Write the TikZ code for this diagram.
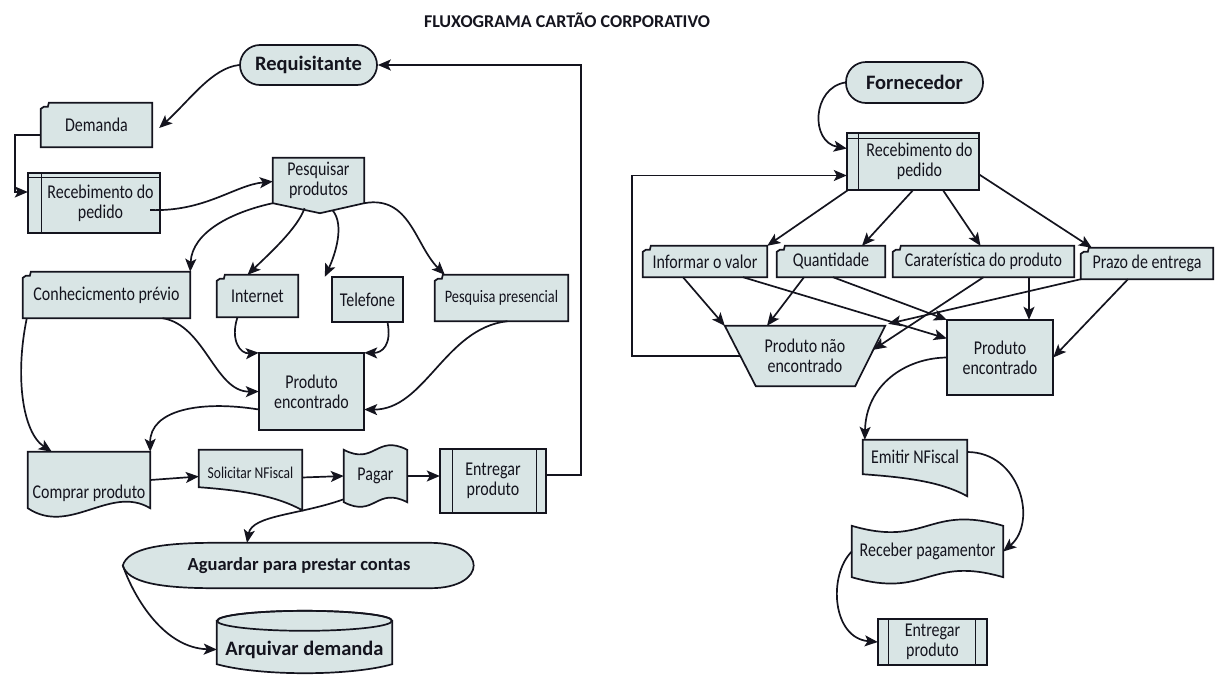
\documentclass[tikz,border=0pt]{standalone}
\usepackage{fontspec}
\setmainfont{Carlito}
\newfontfamily\narrowfont{Carlito}[FakeStretch=0.82]
\usetikzlibrary{arrows.meta,calc}
\pgfdeclarelayer{bg}
\pgfsetlayers{bg,main}
\definecolor{boxfill}{RGB}{217,229,229}
\definecolor{ink}{RGB}{20,20,30}

\tikzset{
  shp/.style={draw=ink, fill=boxfill, line width=1.7pt},
  innerline/.style={draw=ink, line width=1.3pt},
  lbl/.style={inner sep=0pt, align=center, text=ink, font=\narrowfont\fontsize{19.5}{20}\selectfont},
  sz/.style 2 args={minimum width=#1pt, minimum height=#2pt},
  stadium/.style={shp, rounded corners=20pt, font=\bfseries\fontsize{20.5}{24}\selectfont},
  con/.style={draw=ink, line width=1.7pt, -{Stealth[length=13pt,width=11pt,inset=3pt]}},
}

% shape outlines drawn around named nodes
\newcommand\rectshape[1]{\path[shp] (#1.south west) rectangle (#1.north east);}
\newcommand\cardshape[1]{\path[shp] (#1.south west) -- ([yshift=-6pt]#1.north west)
  -- ([xshift=3pt,yshift=-4pt]#1.north west) -- ([xshift=7pt,yshift=-4pt]#1.north west)
  -- ([xshift=8pt]#1.north west) -- (#1.north east) -- (#1.south east) -- cycle;}
\newcommand\storeshape[3]{\rectshape{#1}
  \draw[innerline] ([xshift=#2]#1.south west) -- ([xshift=#2]#1.north west);
  \draw[innerline] ([yshift=-#3]#1.north west) -- ([yshift=-#3]#1.north east);}
\newcommand\predefshape[3]{\rectshape{#1}
  \draw[innerline] ([xshift=#2]#1.south west) -- ([xshift=#2]#1.north west);
  \draw[innerline] ([xshift=-#3]#1.south east) -- ([xshift=-#3]#1.north east);}
\newcommand\docshape[1]{\path[shp] (#1.north west) -- (#1.north east) -- (#1.south east)
  .. controls +(-40,-24) and +(42,28) .. (#1.south west) -- cycle;}
\newcommand\tapeshape[3]{\path[shp] (#1.north west) .. controls +(#2,#3) and +(-#2,-#3) .. (#1.north east)
  -- (#1.south east) .. controls +(-#2,-#3) and +(#2,#3) .. (#1.south west) -- cycle;}
\newcommand\slantshape[2]{\path[shp] (#1.north west) -- (#1.north east) -- ([yshift=-#2]#1.south east)
  .. controls +(-27,-15) and +(41,3) .. (#1.south west) -- cycle;}

\begin{document}
\begin{tikzpicture}[x=1pt,y=-1pt]
\useasboundingbox (0,0) rectangle (1216,675);

\node[lbl, font=\bfseries\fontsize{18}{22}\selectfont] (title) at (567,20) {FLUXOGRAMA CARTÃO CORPORATIVO};

% ---------- requisitante ----------
\node[lbl, stadium, sz={137}{40}] (req) at (308.5,65) {Requisitante};
\node[lbl, sz={111}{44}] (dem) at (96.5,125) {Demanda};
\node[lbl, sz={132}{60}] (rec1) at (94,203) {\hspace*{13pt}Recebimento do\\\hspace*{13pt}pedido};
\node[lbl, sz={91}{45}] (pesq) at (318.5,180.5) {Pesquisar\\produtos};
\node[lbl, sz={167}{46}] (conh) at (106.5,295) {Conhecicmento prévio};
\node[lbl, sz={81}{42}] (inet) at (257.5,296) {Internet};
\node[lbl, sz={71}{45}] (tel) at (367.5,299.5) {Telefone};
\node[lbl, sz={133}{46}, font=\narrowfont\fontsize{17.5}{20}\selectfont] (pres) at (501.5,298) {Pesquisa presencial};
\node[lbl, sz={105}{77}] (pe1) at (311.5,391.5) {Produto\\encontrado};
\node[lbl, sz={122}{56}] (comp) at (89,480) {\rule{0pt}{40pt}Comprar produto};
\node[lbl, sz={103}{37}, font=\narrowfont\fontsize{16.5}{18}\selectfont] (sol) at (250.5,468.5) {\rule{0pt}{20pt}Solicitar NFiscal};
\node[lbl, sz={63}{52}] (pagar) at (375.5,476) {Pagar};
\node[lbl, sz={106}{64}] (ent1) at (493,481) {Entregar\\produto};
\node[lbl, sz={352}{45}, font=\bfseries\fontsize{18.5}{22}\selectfont] (agu) at (299,565.5) {Aguardar para prestar contas};
\node[lbl, sz={175}{37}, font=\bfseries\fontsize{20.5}{24}\selectfont] (arq) at (304.5,649.5) {Arquivar demanda};

% ---------- fornecedor ----------
\node[lbl, stadium, sz={137}{41}] (forn) at (914.5,82.5) {Fornecedor};
\node[lbl, sz={132}{57}] (rec2) at (913,161.5) {\hspace*{13pt}Recebimento do\\\hspace*{13pt}pedido};
\node[lbl, sz={124}{31}] (inf) at (705,261.5) {Informar o valor};
\node[lbl, sz={108}{31}] (qtd) at (831,261.5) {Quantidade};
\node[lbl, sz={181}{31}] (car) at (983.5,261.5) {Caraterística do produto};
\node[lbl, sz={132}{31}] (prz) at (1147,263.5) {Prazo de entrega};
\node[lbl, sz={160}{60}] (pne) at (805,356) {Produto não\\encontrado};
\node[lbl, sz={106}{75}] (pe2) at (1000,357.5) {Produto\\encontrado};
\node[lbl, sz={104}{34}] (emi) at (915,457) {Emitir NFiscal};
\node[lbl, sz={151}{51}] (rcb) at (927.5,551.5) {Receber pagamentor};
\node[lbl, sz={109}{46}] (ent2) at (932.5,642) {Entregar\\produto};

% ---------- outlines ----------
\begin{pgfonlayer}{bg}
  \cardshape{dem}
  \storeshape{rec1}{14pt}{5pt}
  \path[shp] (pesq.north west) -- (pesq.north east) -- (pesq.south east)
    -- ([xshift=1.5pt,yshift=-10pt]pesq.south) -- (pesq.south west) -- cycle;
  \cardshape{conh}
  \cardshape{inet}
  \rectshape{tel}
  \cardshape{pres}
  \rectshape{pe1}
  \docshape{comp}
  \slantshape{sol}{23pt}
  \tapeshape{pagar}{31}{16}
  \predefshape{ent1}{13pt}{10pt}
  \path[shp] (agu.west) .. controls +(5,-17) and +(-55,0) .. ([xshift=92pt]agu.north west)
    -- ([xshift=-45pt]agu.north east) .. controls +(58,0) and +(58,0) .. ([xshift=-45pt]agu.south east)
    -- ([xshift=92pt]agu.south west) .. controls +(-55,0) and +(5,17) .. (agu.west) -- cycle;
  \path[shp] ([yshift=10pt]arq.north west) -- ([yshift=4pt]arq.south west)
    .. controls +(43,12) and +(-42,12) .. ([yshift=4pt]arq.south east)
    -- ([yshift=10pt]arq.north east) arc[start angle=0, end angle=180, x radius=87.5pt, y radius=10pt] -- cycle;
  \draw[shp, fill=none] ([yshift=10pt]arq.north) ellipse [x radius=87.5pt, y radius=10pt];

  \storeshape{rec2}{12pt}{6pt}
  \cardshape{inf}
  \cardshape{qtd}
  \cardshape{car}
  \cardshape{prz}
  \path[shp] (pne.north west) -- (pne.north east) -- ([xshift=-30pt]pne.south east)
    -- ([xshift=31pt]pne.south west) -- cycle;
  \rectshape{pe2}
  \slantshape{emi}{22pt}
  \tapeshape{rcb}{75}{22}
  \predefshape{ent2}{11pt}{12pt}
\end{pgfonlayer}

% ---------- connectors: requisitante ----------
\draw[con] (req.west) .. controls (212,68) and (190,100) .. ([xshift=7pt,yshift=-3pt]dem.east);
\draw[con] ([yshift=-10pt]dem.west) -- ++(-26,0) |- ([yshift=11pt]rec1.west);
\draw[con] ([xshift=-10pt,yshift=-7pt]rec1.east) .. controls (205,212) and (235,185) .. ([yshift=-1pt]pesq.west);
\draw[con] (pesq.south west) .. controls (232,212) and (192,232) .. (conh.north east);
\draw[con] ([xshift=-14pt,yshift=-5pt]pesq.south) .. controls (298,228) and (268,255) .. ([xshift=-10pt]inet.north);
\draw[con] ([xshift=14pt,yshift=-7pt]pesq.south) .. controls (345,225) and (335,255) .. ([xshift=-7pt]tel.north west);
\draw[con] (pesq.south east) .. controls (410,195) and (415,245) .. ([xshift=10pt]pres.north west);
\draw[con] ([xshift=-20pt]inet.south) .. controls (230,340) and (240,354) .. (pe1.north west);
\draw[con] ([xshift=20pt]tel.south) .. controls (392,345) and (382,353) .. (pe1.north east);
\draw[con] ([xshift=56pt]conh.south) .. controls (205,325) and (215,392) .. (pe1.west);
\draw[con] ([xshift=6pt]pres.south) .. controls (445,328) and (425,410) .. ([yshift=-18pt]pe1.east);
\draw[con] ([xshift=4pt]conh.south west) .. controls (15,375) and (22,432) .. ([xshift=24pt]comp.north west);
\draw[con] ([yshift=-18pt]pe1.west) .. controls (200,400) and (150,410) .. (comp.north east);
\draw[con] (comp.east) -- ([yshift=-8pt]sol.west);
\draw[con] ([yshift=-9pt]sol.east) -- (pagar.west);
\draw[con] (pagar.east) -- ([yshift=5pt]ent1.west);
\draw[con] ([yshift=6pt]ent1.east) -- ++(35,0) |- (req.east);
\draw[con] ([yshift=3pt]pagar.south west) .. controls (300,515) and (252,515) .. ([xshift=-52pt]agu.north);
\draw[con] (agu.west) .. controls (135,600) and (165,648) .. (arq.west);

% ---------- connectors: fornecedor ----------
\draw[con] (forn.west) .. controls (812,88) and (810,142) .. ([yshift=13pt]rec2.west);
\draw[con] ([xshift=15.5pt]pne.west) -- ++(-108,0) |- ([yshift=-14pt]rec2.west);
\draw[con] ([xshift=1pt]rec2.south west) -- (inf.north east);
\draw[con] (rec2.south) -- ([xshift=31pt]qtd.north);
\draw[con] ([xshift=30pt]rec2.south) -- ([xshift=-3pt]car.north);
\draw[con] ([yshift=-13pt]rec2.east) -- ([xshift=11pt]prz.north west);
\draw[con] ([xshift=-22pt]inf.south) -- (pne.north west);
\draw[con] ([xshift=38pt]inf.south) -- ([yshift=19pt]pe2.west);
\draw[con] ([xshift=-27pt]qtd.south) -- ([xshift=-38pt]pne.north);
\draw[con] ([xshift=2pt]qtd.south) -- (pe2.north west);
\draw[con] (car.south) -- ([xshift=-12pt,yshift=-24pt]pne.north east);
\draw[con] ([xshift=45.5pt]car.south) -- ([xshift=29pt]pe2.north);
\draw[con] (prz.south west) -- ([xshift=3pt,yshift=2pt]pne.north east);
\draw[con] ([xshift=-19pt]prz.south) -- (pe2.east);
\draw[con] (pe2.west) .. controls (905,358) and (866,385) .. ([xshift=2pt]emi.north west);
\draw[con] ([yshift=5pt]emi.east) .. controls (1020,452) and (1038,522) .. (rcb.east);
\draw[con] (rcb.west) .. controls (828,575) and (832,638) .. (ent2.west);
\end{tikzpicture}
\end{document}
